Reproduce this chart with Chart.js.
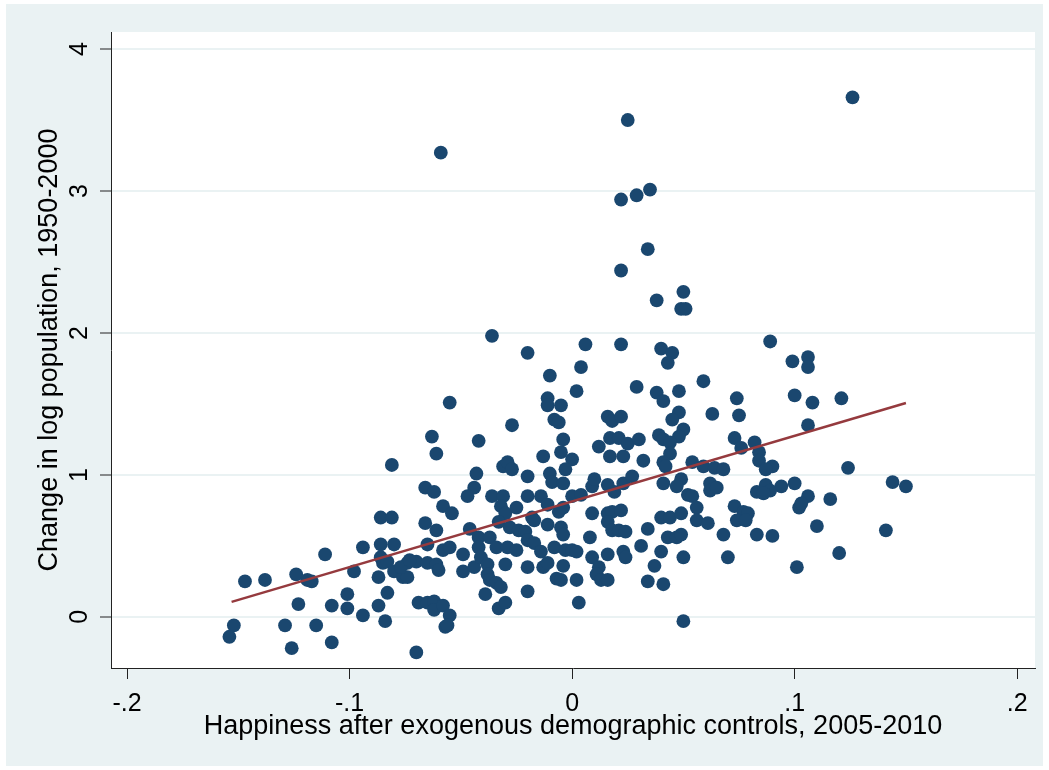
<!DOCTYPE html>
<html>
<head>
<meta charset="utf-8">
<script src="https://cdn.jsdelivr.net/npm/chart.js@4.4.1/dist/chart.umd.min.js"></script>
<style>
  html, body { margin: 0; padding: 0; background: #fff; }
  canvas { display: block; }
</style>
</head>
<body>
<canvas id="happiness_pop" width="1049" height="770"></canvas>
<script>
// happiness residual (x) and change in log population (y), one entry per city
var happiness = [
  -0.152,-0.154,-0.147,-0.138,-0.129,-0.126,-0.124,-0.123,-0.119,-0.117,
  -0.115,-0.111,-0.108,-0.108,-0.101,-0.101,-0.098,-0.094,-0.094,-0.087,
  -0.087,-0.086,-0.081,-0.086,-0.080,-0.086,-0.085,-0.083,-0.083,-0.084,
  -0.081,-0.080,-0.076,-0.074,-0.074,-0.070,-0.077,-0.073,-0.069,-0.065,
  -0.062,-0.062,-0.058,-0.055,-0.057,-0.056,-0.070,-0.065,-0.061,-0.060,
  -0.065,-0.058,-0.055,-0.066,-0.061,-0.058,-0.054,-0.066,-0.062,-0.063,
  -0.061,-0.055,-0.059,-0.049,-0.049,-0.046,-0.044,-0.044,-0.047,-0.043,
  -0.042,-0.042,-0.037,-0.042,-0.041,-0.038,-0.038,-0.037,-0.034,-0.039,
  -0.033,-0.030,-0.036,-0.036,-0.031,-0.032,-0.030,-0.025,-0.033,-0.028,
  -0.024,-0.021,-0.034,-0.029,-0.025,-0.030,-0.032,-0.031,-0.029,-0.027,
  -0.027,-0.020,-0.020,-0.014,-0.020,-0.018,-0.017,-0.020,-0.017,-0.014,
  -0.020,-0.020,-0.013,-0.010,-0.009,-0.004,-0.011,-0.006,-0.004,-0.011,
  -0.005,-0.004,-0.008,-0.003,0.000,-0.013,-0.011,-0.004,-0.007,0.002,
  0.003,-0.010,-0.011,-0.011,-0.005,-0.008,-0.006,-0.004,-0.005,0.000,
  -0.003,0.004,0.006,0.002,0.000,0.004,0.002,-0.005,
  0.009,0.010,0.016,0.019,0.023,0.027,0.041,0.049,0.047,0.062,
  0.062,0.065,0.052,0.054,0.083,0.056,0.073,0.077,0.079,0.009,
  0.016,0.018,0.022,0.016,0.018,0.021,0.024,0.040,0.044,0.049,
  0.056,0.061,0.074,0.078,0.008,0.034,0.068,0.083,0.043,0.047,
  0.049,0.031,0.040,0.009,0.016,0.023,0.024,0.050,0.070,0.037,
  0.012,0.011,0.013,0.016,0.034,0.041,0.050,
  0.022,0.040,0.045,0.043,0.029,0.038,0.041,0.048,0.059,0.074,
  0.075,0.063,0.016,0.018,0.022,0.048,0.045,0.050,0.048,0.017,
  0.021,0.025,0.030,0.012,0.039,0.041,0.044,0.073,0.082,0.017,
  0.023,0.032,0.044,0.041,0.042,0.076,0.054,0.059,0.064,0.068,
  0.126,0.025,0.035,0.029,0.022,0.034,0.022,0.050,0.038,0.049,
  0.051,0.089,
  0.099,0.106,0.106,0.100,0.108,0.121,0.106,0.084,0.084,0.090,
  0.087,0.124,0.144,0.150,0.100,0.094,0.087,0.089,0.086,0.106,
  0.116,0.102,0.103,0.110,0.141,0.090,0.120,0.101
];
var popChange = [
  -0.06,-0.14,0.25,0.26,-0.06,-0.22,0.30,0.09,0.26,0.25,
  -0.06,0.44,0.08,-0.18,0.16,0.06,0.32,0.49,0.01,0.28,
  0.08,0.70,0.70,0.51,0.51,0.42,0.38,0.39,0.17,-0.03,
  1.07,0.32,0.28,0.28,0.38,0.39,0.35,0.40,0.10,0.10,
  0.11,0.05,0.08,0.01,-0.07,-0.06,-0.25,0.38,0.37,0.33,
  0.51,0.47,0.49,0.66,0.61,0.78,0.73,0.91,0.88,1.27,
  1.15,1.51,3.27,0.32,0.44,0.62,0.35,0.91,0.85,1.01,
  1.24,0.56,0.56,0.49,0.42,0.37,0.30,0.26,0.24,0.16,
  0.06,0.10,1.98,0.85,0.85,0.78,0.73,0.77,0.67,0.63,
  0.61,0.60,0.49,0.49,0.47,0.37,0.21,1.06,1.09,1.04,
  1.35,1.86,0.85,0.85,0.99,0.70,0.68,0.54,0.52,0.46,
  0.35,0.18,1.13,1.01,0.95,0.94,0.79,0.74,0.77,0.65,
  0.63,0.58,0.49,0.47,0.47,0.35,0.38,0.36,0.27,0.26,
  0.10,1.70,1.54,1.49,1.49,1.39,1.37,1.25,1.16,1.11,
  1.04,1.76,1.92,1.59,0.85,0.86,0.46,0.26,
  0.92,0.97,0.93,0.88,0.94,0.99,0.94,0.97,0.92,0.94,
  0.89,0.91,0.86,0.85,0.88,0.77,0.78,0.74,0.73,0.73,
  0.73,0.74,0.75,0.67,0.61,0.61,0.60,0.70,0.70,0.73,
  0.68,0.66,0.68,0.68,0.56,0.62,0.58,0.58,0.56,0.56,
  0.58,0.50,0.46,0.42,0.44,0.46,0.42,0.42,0.42,0.36,
  0.35,0.30,0.26,0.26,0.25,0.23,-0.03,
  1.92,1.89,1.86,1.79,1.62,1.58,1.52,1.59,1.66,1.54,
  1.42,1.43,1.41,1.38,1.41,1.44,1.39,1.32,1.27,1.26,
  1.26,1.22,1.25,1.20,1.28,1.25,1.23,1.26,1.23,1.13,
  1.13,1.10,1.15,1.09,1.06,1.19,1.09,1.06,1.05,1.04,
  3.66,3.50,3.01,2.97,2.94,2.59,2.44,2.29,2.23,2.17,
  2.17,1.94,
  1.80,1.83,1.76,1.56,1.51,1.54,1.35,1.16,1.10,1.06,
  1.04,1.05,0.95,0.92,0.94,0.92,0.93,0.89,0.87,0.85,
  0.83,0.77,0.80,0.64,0.61,0.57,0.45,0.35
];

// fitted line end points
var fitX = [-0.153, 0.150];
var fitY = [0.106, 1.507];

var xTicks = [-0.2, -0.1, 0, 0.1, 0.2];
var xTickLabels = ['-.2', '-.1', '0', '.1', '.2'];
var yTicks = [0, 1, 2, 3, 4];
var yTickLabels = ['0', '1', '2', '3', '4'];

var pts = happiness.map(function(v, i){ return {x: v, y: popChange[i]}; });
var fitPts = fitX.map(function(v, i){ return {x: v, y: fitY[i]}; });

var bgPlugin = {
    id: 'stataBg',
    beforeDraw: function(chart){
        var ctx = chart.ctx, a = chart.chartArea;
        ctx.save();
        ctx.fillStyle = '#ffffff';
        ctx.fillRect(0, 0, chart.width, chart.height);
        ctx.fillStyle = '#EAF2F3';
        ctx.fillRect(6, 4, chart.width - 12, chart.height - 8);
        ctx.fillStyle = '#ffffff';
        ctx.fillRect(a.left, a.top, a.right - a.left, a.bottom - a.top);
        ctx.restore();
    }
};

var tickFont = {family: '"Liberation Sans", Arial, sans-serif', size: 25};
var titleFont = {family: '"Liberation Sans", Arial, sans-serif', size: 27};

const config_happiness = {
    type: 'scatter',
    data: {
        datasets: [
        {
            data: fitPts,
            showLine: true,
            borderColor: '#953A3E',
            borderWidth: 2.5,
            pointRadius: 0,
            order: 0
        },
        {
            data: pts,
            backgroundColor: '#1A476F',
            borderWidth: 0,
            pointRadius: 6.9,
            pointHoverRadius: 6.9,
            order: 1
        }
        ]
    },
    options: {
        responsive: false,
        animation: false,
        events: [],
        layout: {padding: {top: 32, right: 14, left: 0, bottom: 0}},
        plugins: {legend: {display: false}, tooltip: {enabled: false}},
        scales: {
            x: {
                type: 'linear',
                min: -0.2072,
                max: 0.208,
                afterBuildTicks: function(s){ s.ticks = xTicks.map(function(v){ return {value: v}; }); },
                afterFit: function(s){ s.height = 102; },
                ticks: {
                    color: '#000',
                    font: tickFont,
                    padding: 10,
                    maxRotation: 0,
                    callback: function(v){ return xTickLabels[xTicks.indexOf(v)]; }
                },
                grid: {drawOnChartArea: false, tickLength: 11, tickColor: '#222', tickWidth: 1},
                border: {color: '#222', width: 1},
                title: {
                    display: true,
                    text: 'Happiness after exogenous demographic controls, 2005-2010',
                    color: '#000',
                    font: titleFont,
                    padding: {top: 0, bottom: 27}
                }
            },
            y: {
                type: 'linear',
                min: -0.36,
                max: 4.12,
                afterBuildTicks: function(s){ s.ticks = yTicks.map(function(v){ return {value: v}; }); },
                afterFit: function(s){ s.width = 111; },
                ticks: {
                    color: '#000',
                    font: tickFont,
                    padding: 13,
                    minRotation: 90,
                    maxRotation: 90,
                    crossAlign: 'center',
                    callback: function(v){ return yTickLabels[yTicks.indexOf(v)]; }
                },
                grid: {color: '#EAF2F3', lineWidth: 2, tickLength: 11, tickColor: '#222', tickWidth: 1},
                border: {color: '#222', width: 1},
                title: {
                    display: true,
                    text: 'Change in log population, 1950-2000',
                    color: '#000',
                    font: titleFont,
                    padding: {top: 33, bottom: 0}
                }
            }
        }
    },
    plugins: [bgPlugin]
};

const happiness_chart = new Chart(
    document.getElementById('happiness_pop'),
    config_happiness
);
</script>
</body>
</html>
